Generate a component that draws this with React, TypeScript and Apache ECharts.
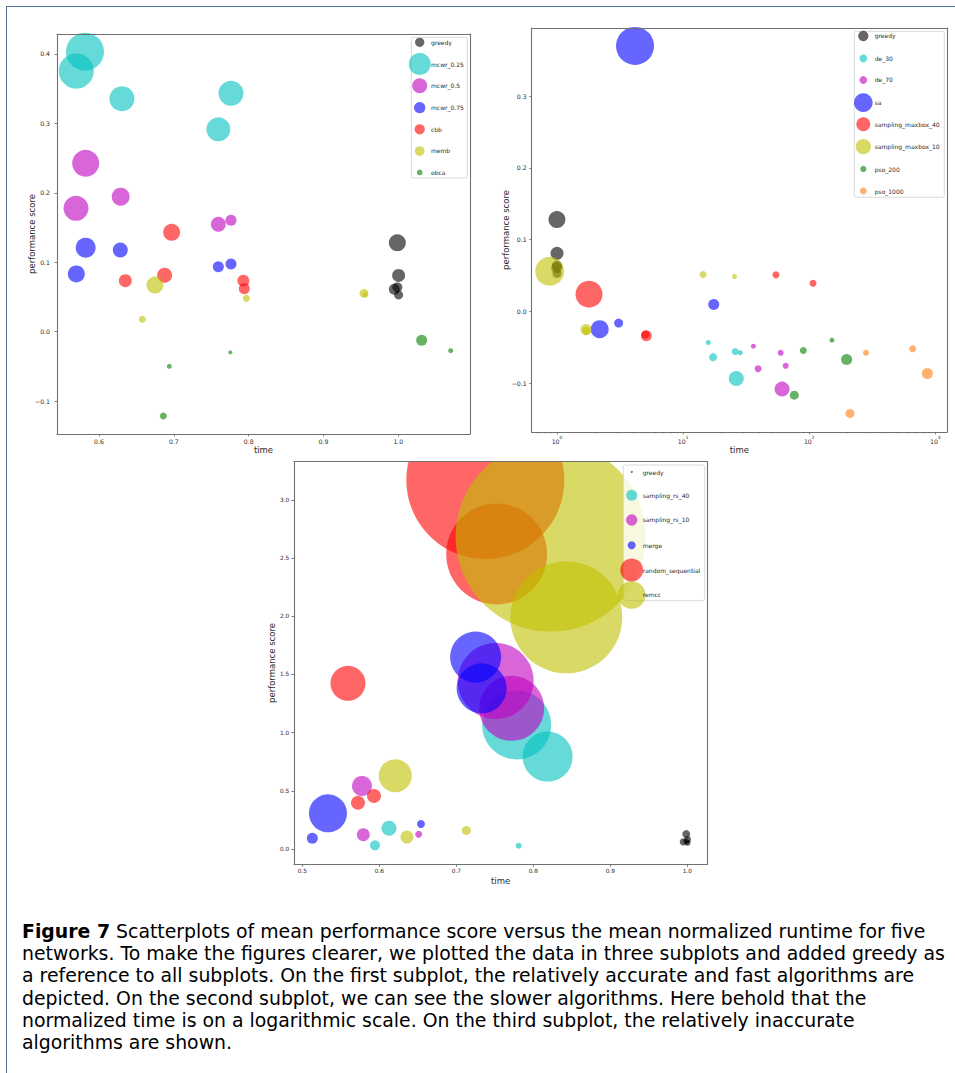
import React, { useEffect, useRef } from "react";
import * as echarts from "echarts";

// Each point: [mean normalized time, mean performance score, marker diameter]
type Pt = [number, number, number];

// ---------- Subplot 1: accurate & fast algorithms ----------
const greedyRef: Pt[] = [
  [0.9987, 0.128, 17], [1.0004, 0.081, 13], [0.9947, 0.061, 11], [0.9987, 0.064, 10], [1.0004, 0.053, 9],
];
const c1Mcwr025: Pt[] = [
  [0.5813, 0.4034, 38], [0.5697, 0.3755, 35], [0.6307, 0.3357, 25], [0.7764, 0.3433, 25], [0.7595, 0.2915, 24],
];
const c1Mcwr05: Pt[] = [
  [0.5822, 0.2425, 27], [0.5693, 0.1777, 25], [0.629, 0.1945, 18], [0.7595, 0.1546, 15], [0.7764, 0.1604, 11],
];
const c1Mcwr075: Pt[] = [
  [0.5822, 0.121, 20], [0.5697, 0.0831, 17], [0.6285, 0.1176, 15], [0.7595, 0.0936, 11], [0.7764, 0.0975, 11],
];
const c1Cbb: Pt[] = [
  [0.6971, 0.1431, 17], [0.6352, 0.0735, 13], [0.6877, 0.0812, 15], [0.7929, 0.0735, 12], [0.7942, 0.062, 11],
];
const c1Memb: Pt[] = [
  [0.6748, 0.0672, 17], [0.6579, 0.0178, 7], [0.7969, 0.048, 7], [0.9541, 0.0552, 9], [0.956, 0.0533, 5],
];
const c1Obca: Pt[] = [
  [1.0312, -0.0125, 11], [1.07, -0.0274, 5], [0.7755, -0.0298, 4], [0.694, -0.0499, 5], [0.686, -0.1215, 7],
];
const c1XTicks = [0.6, 0.7, 0.8, 0.9, 1.0];
const c1YTicks = [-0.1, 0.0, 0.1, 0.2, 0.3, 0.4];

// ---------- Subplot 2: slower algorithms (log time) ----------
const c2De30: Pt[] = [
  [26.4, -0.0933, 15], [17.3, -0.0636, 8], [25.9, -0.0557, 7], [28.4, -0.0575, 5], [15.85, -0.0432, 5],
];
const c2De70: Pt[] = [
  [60.9, -0.1081, 15], [39.3, -0.0798, 7], [65.1, -0.0756, 6], [59.4, -0.0575, 6], [36.1, -0.0483, 5],
];
const c2Sa: Pt[] = [
  [4.156, 0.3698, 38], [17.5, 0.0097, 11], [2.18, -0.0246, 18], [3.08, -0.0162, 9],
];
const c2Smb40: Pt[] = [
  [1.794, 0.0241, 27], [5.11, -0.0339, 11], [5.02, -0.032, 8], [54.5, 0.051, 7], [107.2, 0.0394, 7],
];
const c2Smb10: Pt[] = [
  [0.875, 0.0561, 29], [1.698, -0.025, 11], [1.71, -0.0274, 8], [14.4, 0.0515, 7], [25.6, 0.0487, 5],
];
const c2Pso200: Pt[] = [
  [198, -0.0668, 11], [76.2, -0.1165, 9], [89.8, -0.0543, 7], [151.6, -0.0399, 5],
];
const c2Pso1000: Pt[] = [
  [864, -0.0863, 11], [210.6, -0.142, 9], [282, -0.0575, 6], [661.6, -0.052, 7],
];
const c2XTicks = [1, 10, 100, 1000];
const c2XMinor = [0.7, 0.8, 0.9, 2, 3, 4, 5, 6, 7, 8, 9, 20, 30, 40, 50, 60, 70, 80, 90, 200, 300, 400, 500, 600, 700, 800, 900];
const c2YTicks = [-0.1, 0.0, 0.1, 0.2, 0.3];

// ---------- Subplot 3: relatively inaccurate algorithms ----------
const c3Greedy: Pt[] = [
  [0.9987, 0.128, 8], [1.0004, 0.081, 7], [0.9947, 0.061, 7], [0.9987, 0.064, 6], [1.0004, 0.053, 6],
];
const c3Rs40: Pt[] = [
  [0.7784, 1.066, 69], [0.8186, 0.794, 50], [0.6126, 0.178, 15], [0.5944, 0.0315, 10], [0.781, 0.0287, 6],
];
const c3Rs10: Pt[] = [
  [0.7511, 1.444, 76], [0.7719, 1.209, 65], [0.5775, 0.5415, 20], [0.5792, 0.123, 13], [0.6511, 0.126, 7],
];
const c3Merge: Pt[] = [
  [0.7251, 1.65, 51], [0.7329, 1.381, 50], [0.5333, 0.3066, 38], [0.513, 0.0917, 11], [0.6541, 0.2149, 8],
];
const c3RandSeq: Pt[] = [
  [0.7377, 3.172, 158], [0.7524, 2.535, 101], [0.5593, 1.424, 35], [0.5931, 0.4556, 14], [0.5723, 0.398, 14],
];
const c3Remcc: Pt[] = [
  [0.8225, 2.685, 190], [0.8429, 1.991, 112], [0.6208, 0.63, 33], [0.6359, 0.103, 13], [0.713, 0.16, 9],
];
const c3XTicks = [0.5, 0.6, 0.7, 0.8, 0.9, 1.0];
const c3YTicks = [0.0, 0.5, 1.0, 1.5, 2.0, 2.5, 3.0];

const captionLines = [
  "{b|Figure 7} Scatterplots of mean performance score versus the mean normalized runtime for five",
  "networks. To make the figures clearer, we plotted the data in three subplots and added greedy as",
  "a reference to all subplots. On the first subplot, the relatively accurate and fast algorithms are",
  "depicted. On the second subplot, we can see the slower algorithms. Here behold that the",
  "normalized time is on a logarithmic scale. On the third subplot, the relatively inaccurate",
  "algorithms are shown.",
];

// ---------- styles ----------
const COL = {
  k: "rgba(0,0,0,0.6)",
  c: "rgba(0,191,191,0.6)",
  m: "rgba(191,0,191,0.6)",
  b: "rgba(0,0,255,0.6)",
  r: "rgba(255,0,0,0.6)",
  y: "rgba(191,191,0,0.6)",
  g: "rgba(0,128,0,0.6)",
  o: "rgba(255,127,14,0.6)",
};
const FONT = "DejaVu Sans";
const CAP_FONT = "DejaVu Sans";
const CAP_TARGET_WIDTH = 923; // px width of the second caption line
const CAP_LINE = 22.35;
const SPINE = "#707070";
const TXT = "#2a2a2a";

const fmt1 = (v: number) => v.toFixed(1).replace("-", "\u2212");
const fmtPow = (v: number) => `{b|10}{s|${Math.round(Math.log10(v))}}`;

function captionFontSize(): number {
  try {
    const ctx = document.createElement("canvas").getContext("2d");
    if (!ctx) return 19;
    ctx.font = `100px "${CAP_FONT}"`;
    const w = ctx.measureText(captionLines[1]).width;
    if (!w) return 19;
    return Math.max(15, Math.min(19.2, (100 * CAP_TARGET_WIDTH) / w));
  } catch (e) {
    return 19;
  }
}

interface SDef { name: string; color: string; data: Pt[] }
interface Panel {
  rect: [number, number, number, number];
  xType: "value" | "log";
  xRange: [number, number];
  yRange: [number, number];
  xTicks: number[];
  yTicks: number[];
  xMinor?: number[];
  xFmt: (v: number) => string;
  xRich?: any;
  tickFont: number;
  nameFont: number;
  legendFont: number;
  xLabelMargin: number;
  yLabelMargin: number;
  xNameGap: number;
  yNameGap: number;
  tickLen: number;
  series: SDef[];
  legendIcon: number[];
  legendX: number;
  legendY: number[];
  legendText: number;
  legendBox: [number, number, number, number];
}

function addPanel(opt: any, p: Panel) {
  const gi = opt.grid.length;
  const [l, t, w, h] = p.rect;
  opt.grid.push({ left: l, top: t, width: w, height: h, show: false });
  const xi = opt.xAxis.length;
  const yi = opt.yAxis.length;
  const line = { show: true, onZero: false, lineStyle: { color: SPINE, width: 1.1 } };
  const tickStyle = { color: SPINE, width: 0.9 };
  const nameStyle = { fontFamily: FONT, fontSize: p.nameFont, color: TXT };
  opt.xAxis.push({
    gridIndex: gi, type: p.xType, position: "bottom", min: p.xRange[0], max: p.xRange[1], logBase: 10,
    name: "time", nameLocation: "middle", nameGap: p.xNameGap, nameTextStyle: nameStyle, nameMoveOverlap: false,
    axisLine: line,
    axisTick: { show: true, inside: false, length: p.tickLen, lineStyle: tickStyle, customValues: p.xTicks },
    axisLabel: {
      show: true, customValues: p.xTicks, formatter: p.xFmt, fontFamily: FONT, fontSize: p.tickFont,
      color: TXT, margin: p.xLabelMargin, rich: p.xRich, hideOverlap: false,
    },
    splitLine: { show: false }, minorTick: { show: false }, z: 5,
  });
  opt.xAxis.push({
    gridIndex: gi, type: p.xType, position: "top", min: p.xRange[0], max: p.xRange[1], logBase: 10,
    axisLine: line, axisTick: { show: false }, axisLabel: { show: false }, splitLine: { show: false }, z: 5,
  });
  opt.yAxis.push({
    gridIndex: gi, type: "value", position: "left", min: p.yRange[0], max: p.yRange[1],
    name: "performance score", nameLocation: "middle", nameRotate: 90, nameGap: p.yNameGap,
    nameTextStyle: nameStyle, nameMoveOverlap: false,
    axisLine: line,
    axisTick: { show: true, inside: false, length: p.tickLen, lineStyle: tickStyle, customValues: p.yTicks },
    axisLabel: {
      show: true, customValues: p.yTicks, formatter: fmt1, fontFamily: FONT, fontSize: p.tickFont,
      color: TXT, margin: p.yLabelMargin, hideOverlap: false,
    },
    splitLine: { show: false }, z: 5,
  });
  opt.yAxis.push({
    gridIndex: gi, type: "value", position: "right", min: p.yRange[0], max: p.yRange[1],
    axisLine: line, axisTick: { show: false }, axisLabel: { show: false }, splitLine: { show: false }, z: 5,
  });
  if (p.xMinor) {
    const g2 = opt.grid.length;
    opt.grid.push({ left: l, top: t, width: w, height: h, show: false });
    opt.xAxis.push({
      gridIndex: g2, type: p.xType, position: "bottom", min: p.xRange[0], max: p.xRange[1], logBase: 10,
      axisLine: { show: false },
      axisTick: { show: true, inside: false, length: p.tickLen * 0.55, lineStyle: tickStyle, customValues: p.xMinor },
      axisLabel: { show: false }, splitLine: { show: false }, z: 5,
    });
    opt.yAxis.push({ gridIndex: g2, type: "value", show: false, min: 0, max: 1 });
  }
  p.series.forEach((s, i) => {
    opt.series.push({
      type: "scatter", name: s.name, xAxisIndex: xi, yAxisIndex: yi, data: s.data,
      symbol: "circle", symbolSize: (v: number[]) => v[2],
      itemStyle: { color: s.color, opacity: 1 }, emphasis: { disabled: true }, silent: true, z: 2,
    });
    const d = p.legendIcon[i];
    const cx = p.legendX;
    const cy = p.legendY[i];
    opt.legend.push({
      show: true, data: [{ name: s.name, icon: "circle" }], left: cx - d / 2, top: cy - d / 2,
      itemWidth: d, itemHeight: d, padding: 0, itemGap: 0, orient: "vertical", selectedMode: false,
      itemStyle: { opacity: 1 },
      textStyle: { fontFamily: FONT, fontSize: p.legendFont, color: TXT, padding: [0, 0, 0, p.legendText - cx - d / 2 - 5] },
      z: 6,
    });
  });
  const [bx, by, bw, bh] = p.legendBox;
  opt.graphic.elements.push({
    type: "rect", silent: true, z: 3, zlevel: 0,
    shape: { x: bx, y: by, width: bw, height: bh, r: 2 },
    style: { fill: "rgba(255,255,255,0.8)", stroke: "#d2d2d2", lineWidth: 0.8 },
  });
}

function baseOption() {
  return {
    animation: false,
    textStyle: { fontFamily: FONT },
    grid: [] as any[], xAxis: [] as any[], yAxis: [] as any[], series: [] as any[], legend: [] as any[],
    graphic: { elements: [] as any[] },
  };
}

export default function App() {
  const topRef = useRef<HTMLDivElement>(null);
  const botRef = useRef<HTMLDivElement>(null);

  useEffect(() => {
    const chartA = echarts.init(topRef.current!, undefined, { renderer: "svg" });
    const chartB = echarts.init(botRef.current!, undefined, { renderer: "svg" });

    const optA = baseOption();
    addPanel(optA, {
      rect: [57, 34, 413, 400], xType: "value", xRange: [0.5439, 1.0958], yRange: [-0.1474, 0.4288],
      xTicks: c1XTicks, yTicks: c1YTicks, xFmt: fmt1,
      tickFont: 6.2, nameFont: 8.5, legendFont: 6, xLabelMargin: 4, yLabelMargin: 7,
      xNameGap: 11.7, yNameGap: 21, tickLen: 2.4,
      series: [
        { name: "greedy", color: COL.k, data: greedyRef },
        { name: "mcwr_0.25", color: COL.c, data: c1Mcwr025 },
        { name: "mcwr_0.5", color: COL.m, data: c1Mcwr05 },
        { name: "mcwr_0.75", color: COL.b, data: c1Mcwr075 },
        { name: "cbb", color: COL.r, data: c1Cbb },
        { name: "memb", color: COL.y, data: c1Memb },
        { name: "obca", color: COL.g, data: c1Obca },
      ],
      legendIcon: [9.3, 22, 15, 11.3, 10.3, 9.7, 5.7],
      legendX: 419.7, legendY: [42.3, 64, 85.7, 107.7, 129.3, 151, 172.3], legendText: 431,
      legendBox: [411.3, 37.3, 56, 140.7],
    });
    addPanel(optA, {
      rect: [531.7, 28, 415.3, 404], xType: "log", xRange: [0.63, 1238], yRange: [-0.1678, 0.3947],
      xTicks: c2XTicks, yTicks: c2YTicks, xMinor: c2XMinor, xFmt: fmtPow,
      xRich: {
        b: { fontFamily: FONT, fontSize: 6.2, color: TXT, lineHeight: 9, verticalAlign: "bottom" },
        s: { fontFamily: FONT, fontSize: 4.4, color: TXT, lineHeight: 9, verticalAlign: "top" },
      },
      tickFont: 6.2, nameFont: 8.5, legendFont: 6, xLabelMargin: 3.5, yLabelMargin: 5,
      xNameGap: 13.7, yNameGap: 21.7, tickLen: 2.4,
      series: [
        { name: "greedy", color: COL.k, data: greedyRef },
        { name: "de_30", color: COL.c, data: c2De30 },
        { name: "de_70", color: COL.m, data: c2De70 },
        { name: "sa", color: COL.b, data: c2Sa },
        { name: "sampling_maxbox_40", color: COL.r, data: c2Smb40 },
        { name: "sampling_maxbox_10", color: COL.y, data: c2Smb10 },
        { name: "pso_200", color: COL.g, data: c2Pso200 },
        { name: "pso_1000", color: COL.o, data: c2Pso1000 },
      ],
      legendIcon: [10.3, 7.7, 7.7, 18.7, 14, 15.3, 6.3, 6.7],
      legendX: 863.3, legendY: [36, 58.3, 80, 102.7, 124.3, 146.7, 169, 191], legendText: 874.7,
      legendBox: [854.3, 31.3, 90, 166],
    });

    const optB = baseOption();
    addPanel(optB, {
      rect: [294, 0.7, 413.3, 402.6], xType: "value", xRange: [0.4892, 1.026], yRange: [-0.1315, 3.329],
      xTicks: c3XTicks, yTicks: c3YTicks, xFmt: fmt1,
      tickFont: 5.8, nameFont: 8.5, legendFont: 6, xLabelMargin: 3.2, yLabelMargin: 4.7,
      xNameGap: 11.7, yNameGap: 17.3, tickLen: 2.6,
      series: [
        { name: "greedy", color: COL.k, data: c3Greedy },
        { name: "sampling_rs_40", color: COL.c, data: c3Rs40 },
        { name: "sampling_rs_10", color: COL.m, data: c3Rs10 },
        { name: "merge", color: COL.b, data: c3Merge },
        { name: "random_sequential", color: COL.r, data: c3RandSeq },
        { name: "remcc", color: COL.y, data: c3Remcc },
      ],
      legendIcon: [2, 11, 11.3, 8, 23, 27.7],
      legendX: 631.7, legendY: [9, 34.3, 59, 84.3, 109, 134], legendText: 642.7,
      legendBox: [623.3, 4, 81.4, 135.7],
    });
    const capSize = captionFontSize();
    captionLines.forEach((ln, k) => {
      optB.graphic.elements.push({
        type: "text", silent: true, z: 10, x: 22, y: 469.6 + CAP_LINE * k,
        style: {
          text: ln, fontFamily: CAP_FONT, fontSize: capSize, fill: "#000", verticalAlign: "middle", align: "left",
          rich: { b: { fontFamily: CAP_FONT, fontSize: capSize, fontWeight: "bold", fill: "#000" } },
        },
      });
    });

    chartA.setOption(optA);
    chartB.setOption(optB);
    return () => {
      chartA.dispose();
      chartB.dispose();
    };
  }, []);

  return (
    <>
      <div
        style={{
          position: "absolute", left: 6, top: 6, width: 949, height: 1067,
          borderLeft: "1.3px solid #4d74a0", borderTop: "1.3px solid #4d74a0", boxSizing: "border-box",
        }}
      />
      <div ref={topRef} style={{ position: "absolute", left: 0, top: 0, width: 955, height: 461 }} />
      <div ref={botRef} style={{ position: "absolute", left: 0, top: 461, width: 955, height: 612, overflow: "hidden" }} />
    </>
  );
}
